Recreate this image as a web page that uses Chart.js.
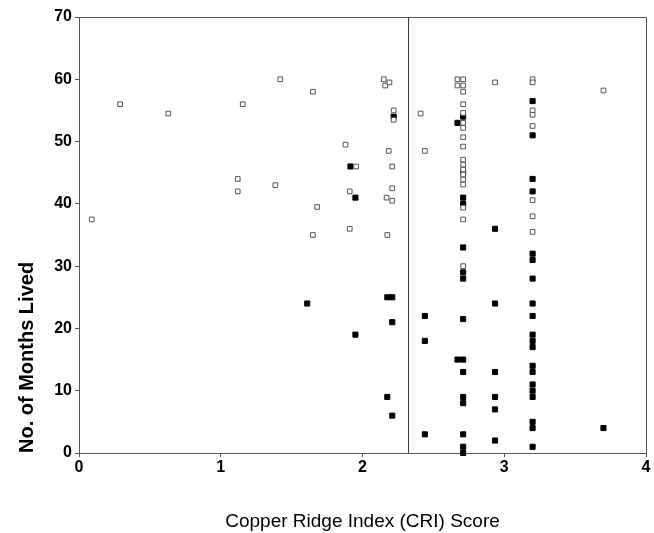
<!DOCTYPE html>
<html lang="en">
<head>
    <meta charset="UTF-8">
    <title>CRI Score vs Months Lived</title>
    <script src="https://cdn.jsdelivr.net/npm/chart.js@4/dist/chart.umd.min.js"></script>
    <style>
        body { margin: 0; background: #fff; }
        #wrap { width: 654px; height: 533px; }
    </style>
</head>
<body>
    <div id="wrap"><canvas id="myChart"></canvas></div>

    <script>
        // open squares
        let openCri = [0.09, 0.29, 0.63, 1.12, 1.12, 1.155, 1.385, 1.42, 1.65, 1.65, 1.68, 1.88, 1.91, 1.91, 1.955,
            2.15, 2.16, 2.19, 2.22, 2.22, 2.185, 2.21, 2.21, 2.17, 2.21, 2.175, 2.41, 2.44,
            2.67, 2.71, 2.67, 2.71, 2.71, 2.71, 2.71, 2.71, 2.71, 2.71, 2.71, 2.71, 2.71, 2.71, 2.71, 2.71, 2.71, 2.71, 2.71, 2.71,
            2.935, 3.2, 3.2, 3.2, 3.2, 3.2, 3.2, 3.2, 3.2, 3.7];
        let openMonths = [37.5, 56, 54.5, 44, 42, 56, 43, 60, 58, 35, 39.5, 49.5, 42, 36, 46,
            60, 59, 59.5, 55, 53.5, 48.5, 46, 42.5, 41, 40.5, 35, 54.5, 48.5,
            60, 60, 59, 59, 58, 56, 54.6, 53, 52.2, 50.7, 49.2, 47.1, 46.3, 45.5, 44.7, 43.9, 43.1, 39.4, 37.5, 30,
            59.5, 60, 59.5, 55, 54.3, 52.5, 40.6, 38, 35.5, 58.2];

        // filled squares
        let filledCri = [1.61, 1.915, 1.95, 1.95, 2.175, 2.21, 2.21, 2.175, 2.21, 2.22,
            2.44, 2.44, 2.44,
            2.71, 2.67, 2.71, 2.71, 2.71, 2.71, 2.71, 2.71, 2.71, 2.67, 2.71, 2.71, 2.71, 2.71, 2.71, 2.71, 2.71,
            2.935, 2.935, 2.935, 2.935, 2.935, 2.935,
            3.2, 3.2, 3.2, 3.2, 3.2, 3.2, 3.2, 3.2, 3.2, 3.2, 3.2, 3.2, 3.2, 3.2, 3.2, 3.2, 3.2, 3.2, 3.2, 3.2,
            3.7];
        let filledMonths = [24, 46, 41, 19, 25, 25, 21, 9, 6, 54,
            22, 18, 3,
            54, 53, 45, 41, 40, 33, 29, 28, 21.5, 15, 15, 13, 9, 8, 3, 1, 0,
            36, 24, 13, 9, 7, 2,
            56.5, 51, 44, 42, 32, 31, 28, 24, 22, 19, 18, 17, 14, 13, 11, 10, 9, 5, 4, 1,
            4];

        // cut-off line
        let cutoffCri = 2.325;
        let cutoffMonths = [0, 70];

        let xTicks = [0, 1, 2, 3, 4];
        let yTicks = [0, 10, 20, 30, 40, 50, 60, 70];

        function toPoints(xs, ys) {
            return xs.map((x, i) => ({ x: x, y: ys[i] }));
        }

        // box round the plot (top and right edges)
        const frame = {
            id: 'frame',
            beforeDatasetsDraw(chart) {
                const a = chart.chartArea, ctx = chart.ctx;
                ctx.save();
                ctx.strokeStyle = '#555';
                ctx.lineWidth = 1;
                ctx.beginPath();
                ctx.moveTo(a.left, a.top + 0.5);
                ctx.lineTo(a.right + 0.5, a.top + 0.5);
                ctx.lineTo(a.right + 0.5, a.bottom);
                ctx.stroke();
                ctx.restore();
            }
        };

        let grafica = new Chart(document.getElementById('myChart'), {
            type: 'scatter',
            data: {
                datasets: [{
                    label: 'cutoff',
                    type: 'line',
                    data: cutoffMonths.map(m => ({ x: cutoffCri, y: m })),
                    borderColor: '#333',
                    borderWidth: 1,
                    pointRadius: 0,
                    fill: false
                }, {
                    label: 'open',
                    data: toPoints(openCri, openMonths),
                    pointStyle: 'rect',
                    pointRadius: 3.3,
                    backgroundColor: '#fff',
                    borderColor: '#555',
                    borderWidth: 1
                }, {
                    label: 'filled',
                    data: toPoints(filledCri, filledMonths),
                    pointStyle: 'rect',
                    pointRadius: 3.6,
                    backgroundColor: '#000',
                    borderColor: '#000',
                    borderWidth: 1
                }]
            },
            options: {
                responsive: true,
                maintainAspectRatio: false,
                animation: false,
                clip: false,
                layout: { padding: { top: 17, right: 8, left: 0, bottom: 0 } },
                plugins: { legend: { display: false }, tooltip: { enabled: false } },
                scales: {
                    x: {
                        type: 'linear',
                        min: 0, max: 4,
                        afterFit: s => { s.height = 80; },
                        afterBuildTicks: s => { s.ticks = xTicks.map(v => ({ value: v })); },
                        grid: { drawOnChartArea: false, tickLength: 4, color: '#555' },
                        border: { color: '#555' },
                        ticks: {
                            color: '#000', padding: 1,
                            font: { family: 'Liberation Sans', size: 16, weight: 'bold' }
                        },
                        title: {
                            display: true,
                            text: 'Copper Ridge Index (CRI) Score',
                            color: '#000',
                            padding: { top: 0, bottom: 0 },
                            font: { family: 'Liberation Sans', size: 19 }
                        }
                    },
                    y: {
                        min: 0, max: 70,
                        afterFit: s => { s.width = 79; },
                        afterBuildTicks: s => { s.ticks = yTicks.map(v => ({ value: v })); },
                        grid: { drawOnChartArea: false, tickLength: 4, color: '#555' },
                        border: { color: '#555' },
                        ticks: {
                            color: '#000', padding: 3,
                            font: { family: 'Liberation Sans', size: 16, weight: 'bold' }
                        },
                        title: {
                            display: true,
                            text: 'No. of Months Lived',
                            align: 'start',
                            color: '#000',
                            padding: { top: 15, bottom: 0 },
                            font: { family: 'Liberation Sans', size: 20, weight: 'bold' }
                        }
                    }
                }
            },
            plugins: [frame]
        });
    </script>
</body>
</html>
